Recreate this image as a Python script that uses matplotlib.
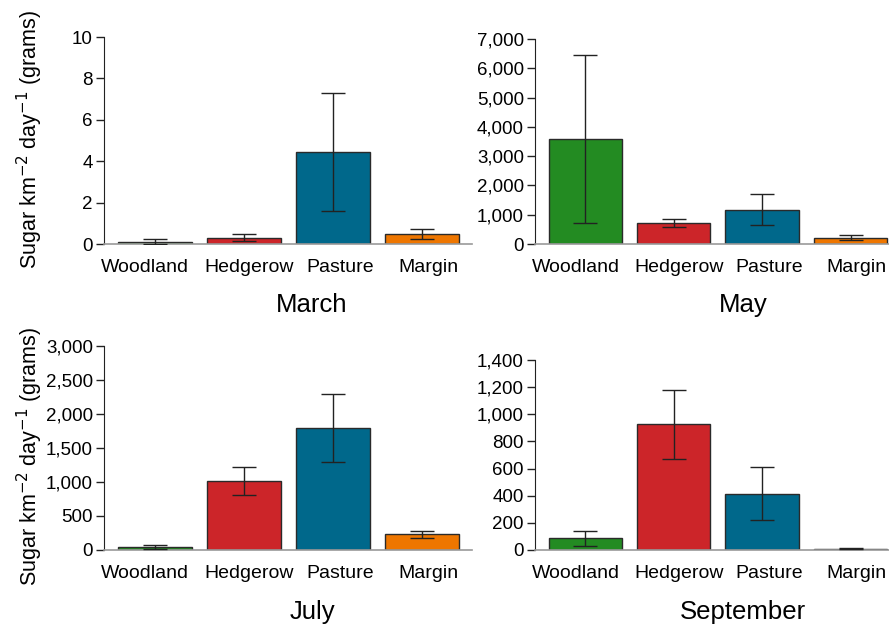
import matplotlib
matplotlib.use("Agg")
import matplotlib.pyplot as plt
from matplotlib.ticker import FuncFormatter

plt.rcParams['font.family'] = ['Liberation Sans', 'DejaVu Sans']

categories = ["Woodland", "Hedgerow", "Pasture", "Margin"]
colors = ["#238b22", "#cc2529", "#00688b", "#ee7600"]

march_vals = [0.11, 0.30, 4.46, 0.48]
march_err = [0.11, 0.17, 2.85, 0.25]
may_vals = [3575, 707, 1174, 217]
may_err = [2870, 137, 536, 92]
july_vals = [49, 1015, 1794, 230]
july_err = [27, 210, 495, 52]
sept_vals = [86, 926, 415, 9]
sept_err = [57, 253, 197, 3]

months = ["March", "May", "July", "September"]
yticks = [[0, 2, 4, 6, 8, 10],
          [0, 1000, 2000, 3000, 4000, 5000, 6000, 7000],
          [0, 500, 1000, 1500, 2000, 2500, 3000],
          [0, 200, 400, 600, 800, 1000, 1200, 1400]]

W, H = 889, 625
fig = plt.figure(figsize=(W / 100, H / 100), dpi=100)

# pixel layouts: (left, right, y_zero, y_top)
layouts = [(104, 472, 244, 37), (535, 900, 244, 39),
           (104, 472, 550, 346), (535, 900, 550, 360)]
data = [(march_vals, march_err), (may_vals, may_err),
        (july_vals, july_err), (sept_vals, sept_err)]
label_pos = [(312, 305), (743, 305), (312, 612), (743, 612)]
label_shift = [-0.11, 0.06, 0.08, 0.07]  # tick label offsets in category units

fmt = FuncFormatter(lambda v, p: f"{int(v):,}")

for i, ((l, r, y0, yt), (vals, errs), ticks) in enumerate(zip(layouts, data, yticks)):
    ax = fig.add_axes([l / W, 1 - y0 / H, (r - l) / W, (y0 - yt) / H])
    x = list(range(len(categories)))
    ax.bar(x, vals, width=0.83, color=colors, edgecolor="#2a2a2a", linewidth=1.0, zorder=2)
    ax.errorbar(x, vals, yerr=errs, fmt="none", ecolor="#222222", elinewidth=1.0,
                capsize=8.3, capthick=1.0, zorder=3)
    ax.set_xlim(-0.57, 3.56)
    ax.set_ylim(0, ticks[-1])
    ax.set_yticks(ticks)
    ax.yaxis.set_major_formatter(fmt)
    ax.set_xticks([xi + d for xi, d in zip(x, label_shift)])
    ax.set_xticklabels(categories, fontsize=14.0)
    ax.tick_params(axis="x", length=0, pad=11)
    ax.tick_params(axis="y", direction="out", length=6, width=1, labelsize=13.5,
                   color="#222222", pad=2)
    for s in ["top", "right"]:
        ax.spines[s].set_visible(False)
    ax.spines["left"].set_color("#222222")
    ax.spines["left"].set_bounds(0, ticks[-1])
    ax.spines["bottom"].set_color("#999999")
    ax.spines["bottom"].set_linewidth(1.2)
    ax.patch.set_alpha(0)
    lx, ly = label_pos[i]
    fig.text(lx / W, 1 - ly / H, months[i], fontsize=18.5, ha="center", va="center")

ylab = "Sugar km$^{-2}$ day$^{-1}$ (grams)"
fig.text(30 / W, 1 - 139 / H, ylab, rotation=90, fontsize=15.5, ha="center", va="center")
fig.text(30 / W, 1 - 456 / H, ylab, rotation=90, fontsize=15.5, ha="center", va="center")

fig.savefig("out.png", dpi=100)
